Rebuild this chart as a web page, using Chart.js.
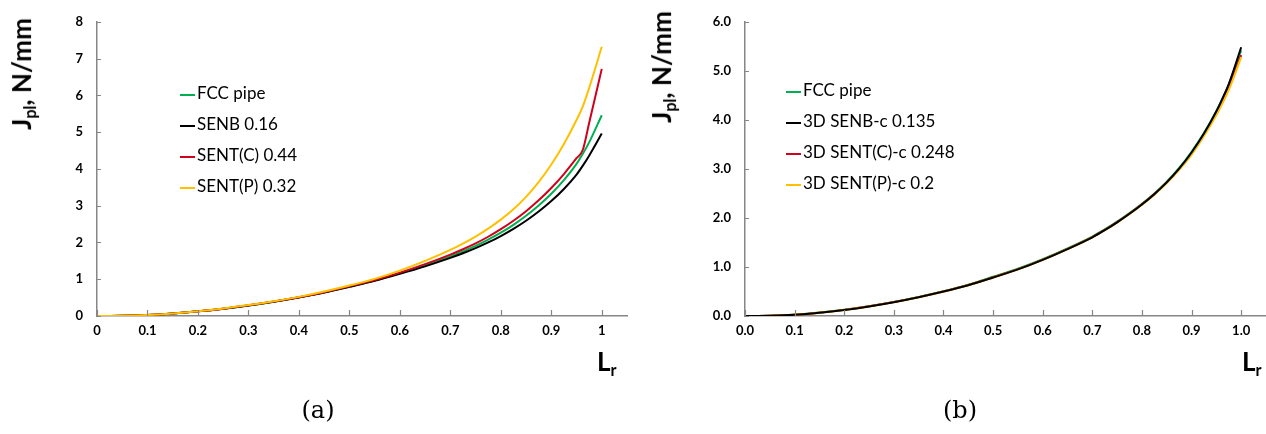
<!DOCTYPE html>
<html>
<head>
<meta charset="utf-8">
<script src="https://cdn.jsdelivr.net/npm/chart.js@4.4.1/dist/chart.umd.min.js"></script>
<style>
  body { margin: 0; background: #fff; }
  #page { position: relative; width: 1266px; height: 434px; background: #fff; overflow: hidden; font-family: Lato, sans-serif; }
  .panel { position: absolute; top: 0; height: 434px; }
  .ytitle { position: absolute; font: bold 26px Lato, sans-serif; white-space: nowrap; transform: translate(-50%, -50%) rotate(-90deg); color: #000; }
  .xtitle { position: absolute; font: bold 26px Lato, sans-serif; white-space: nowrap; color: #000; }
  sub { font-size: 62%; vertical-align: -0.3em; }
  .caption { position: absolute; font: 24px "DejaVu Serif", "Liberation Serif", serif; transform: translateX(-50%); color: #000; }
  .legend { position: absolute; font: 17px Lato, sans-serif; color: #000; }
  .legend div { height: 31px; line-height: 31px; white-space: nowrap; }
  .legend span { display: inline-block; width: 15px; height: 2px; vertical-align: middle; margin-right: 2px; }
</style>
</head>
<body>
<div id="page">
  <div class="panel" style="left:0;width:640px"><canvas id="chartA"></canvas></div>
  <div class="panel" style="left:640px;width:626px"><canvas id="chartB"></canvas></div>
  <div class="ytitle" style="left:22px;top:74px">J<sub>pl</sub>, N/mm</div>
  <div class="ytitle" style="left:662px;top:67px">J<sub>pl</sub>, N/mm</div>
  <div class="xtitle" style="left:597px;top:345px">L<sub>r</sub></div>
  <div class="xtitle" style="left:1242px;top:345px">L<sub>r</sub></div>
  <div class="caption" style="left:318px;top:396px">(a)</div>
  <div class="caption" style="left:960px;top:396px">(b)</div>
  <div class="legend" id="legendA" style="left:180px;top:77px"></div>
  <div class="legend" id="legendB" style="left:786px;top:74px"></div>
</div>
<script>
// L_r values shared by both panels
const lr = [0, 0.05, 0.1, 0.15, 0.2, 0.25, 0.3, 0.35, 0.4, 0.45, 0.5, 0.55, 0.6, 0.65, 0.7, 0.725, 0.75, 0.775, 0.8, 0.825, 0.85, 0.875, 0.9, 0.925, 0.95, 0.9625, 0.975, 1.0];
const xTicks = [0, 0.1, 0.2, 0.3, 0.4, 0.5, 0.6, 0.7, 0.8, 0.9, 1.0];

// (a) 2D geometry
const labelsA = ['FCC pipe', 'SENB 0.16', 'SENT(C) 0.44', 'SENT(P) 0.32'];
const fccA   = [0, 0.005, 0.027, 0.069, 0.127, 0.2, 0.288, 0.39, 0.507, 0.64, 0.8, 0.965, 1.16, 1.38, 1.62, 1.755, 1.905, 2.075, 2.265, 2.48, 2.725, 3.005, 3.325, 3.695, 4.135, 4.41, 4.72, 5.46];
const senbA  = [0, 0.005, 0.027, 0.069, 0.127, 0.2, 0.288, 0.39, 0.505, 0.637, 0.792, 0.955, 1.145, 1.35, 1.58, 1.705, 1.845, 2.0, 2.175, 2.37, 2.59, 2.84, 3.125, 3.455, 3.845, 4.09, 4.36, 4.96];
const sentcA = [0, 0.005, 0.027, 0.069, 0.127, 0.2, 0.29, 0.392, 0.51, 0.647, 0.81, 0.98, 1.18, 1.41, 1.67, 1.815, 1.975, 2.155, 2.36, 2.59, 2.85, 3.145, 3.48, 3.86, 4.29, 4.52, 5.25, 6.72];
const sentpA = [0, 0.005, 0.027, 0.07, 0.13, 0.205, 0.296, 0.4, 0.52, 0.665, 0.83, 1.01, 1.235, 1.5, 1.8, 1.97, 2.16, 2.375, 2.62, 2.9, 3.24, 3.64, 4.12, 4.68, 5.33, 5.7, 6.2, 7.32];

// (b) 3D geometry
const labelsB = ['FCC pipe', '3D SENB-c 0.135', '3D SENT(C)-c 0.248', '3D SENT(P)-c 0.2'];
const fccB   = [0, 0.005, 0.027, 0.069, 0.127, 0.2, 0.288, 0.39, 0.507, 0.64, 0.8, 0.965, 1.16, 1.38, 1.62, 1.765, 1.925, 2.1, 2.29, 2.5, 2.74, 3.02, 3.35, 3.73, 4.18, 4.44, 4.72, 5.42];
const senbB  = [0, 0.005, 0.026, 0.067, 0.124, 0.196, 0.282, 0.383, 0.498, 0.628, 0.785, 0.95, 1.145, 1.365, 1.605, 1.75, 1.91, 2.085, 2.275, 2.485, 2.725, 3.005, 3.335, 3.72, 4.175, 4.44, 4.73, 5.48];
const sentcB = [0, 0.005, 0.026, 0.068, 0.125, 0.197, 0.284, 0.385, 0.5, 0.632, 0.79, 0.955, 1.15, 1.37, 1.61, 1.755, 1.915, 2.09, 2.28, 2.49, 2.725, 2.995, 3.31, 3.7, 4.13, 4.38, 4.65, 5.32];
const sentpB = [0, 0.005, 0.026, 0.067, 0.124, 0.196, 0.283, 0.383, 0.498, 0.628, 0.785, 0.95, 1.145, 1.365, 1.605, 1.75, 1.905, 2.08, 2.27, 2.475, 2.71, 2.98, 3.29, 3.67, 4.1, 4.345, 4.61, 5.28];

const colors = ['#00B050', '#000000', '#D0021B', '#FFC000'];
const axisColor = '#868686';

Chart.defaults.font.family = 'Lato, sans-serif';
Chart.defaults.color = '#000';

// short tick marks pointing into the plot, like the original
const innerTicks = {
  id: 'innerTicks',
  afterDraw(chart) {
    const ctx = chart.ctx;
    const xs = chart.scales.x, ys = chart.scales.y;
    ctx.save();
    ctx.strokeStyle = axisColor;
    ctx.lineWidth = 1.2;
    ctx.beginPath();
    xs.ticks.forEach(t => {
      const px = Math.round(xs.getPixelForValue(t.value)) + 0.5;
      ctx.moveTo(px, xs.top);
      ctx.lineTo(px, xs.top - 6);
    });
    ys.ticks.forEach(t => {
      const py = Math.round(ys.getPixelForValue(t.value)) + 0.5;
      ctx.moveTo(ys.right - 1, py);
      ctx.lineTo(ys.right + 4, py);
    });
    ctx.stroke();
    ctx.restore();
  }
};

function makeChart(id, labels, series, orders, opts) {
  const datasets = series.map((vals, i) => ({
    label: labels[i],
    data: vals.map((v, k) => ({ x: lr[k], y: v })),
    borderColor: colors[i],
    backgroundColor: colors[i],
    borderWidth: 2,
    pointRadius: 0,
    cubicInterpolationMode: 'monotone',
    order: orders[i]
  }));
  return new Chart(document.getElementById(id), {
    type: 'line',
    data: { datasets },
    options: {
      responsive: true,
      maintainAspectRatio: false,
      animation: false,
      layout: { padding: { top: 14, right: opts.padRight, left: 0, bottom: 0 } },
      plugins: { legend: { display: false }, tooltip: { enabled: false } },
      scales: {
        x: {
          type: 'linear',
          min: 0,
          max: 1.05,
          afterBuildTicks: s => { s.ticks = xTicks.map(v => ({ value: v })); },
          afterFit: s => { s.height = 434 - opts.bottom; },
          ticks: {
            padding: 7,
            maxRotation: 0,
            autoSkip: false,
            font: { size: 13, weight: 'bold' },
            callback: v => opts.xFmt(v)
          },
          grid: { display: true, drawOnChartArea: false, drawTicks: false },
          border: { display: true, color: axisColor, width: 1.5 }
        },
        y: {
          min: 0,
          max: opts.yMax,
          afterFit: s => { s.width = opts.yLeft; },
          ticks: {
            stepSize: 1,
            padding: 14,
            font: { size: 13, weight: 'bold' },
            callback: v => opts.yFmt(v)
          },
          grid: { display: true, drawOnChartArea: false, drawTicks: false },
          border: { display: true, color: axisColor, width: 1.5 }
        }
      }
    },
    plugins: [innerTicks]
  });
}

function buildLegend(chart, elId) {
  const el = document.getElementById(elId);
  chart.data.datasets.forEach(ds => {
    const row = document.createElement('div');
    const line = document.createElement('span');
    line.style.background = ds.borderColor;
    row.appendChild(line);
    row.appendChild(document.createTextNode(ds.label));
    el.appendChild(row);
  });
}

const chartA = makeChart('chartA', labelsA, [fccA, senbA, sentcA, sentpA], [4, 3, 2, 1], {
  padRight: 13, bottom: 316, yLeft: 97, yMax: 8,
  xFmt: v => String(Math.round(v * 10) / 10),
  yFmt: v => String(v)
});
const chartB = makeChart('chartB', labelsB, [fccB, senbB, sentcB, sentpB], [4, 1, 3, 2], {
  padRight: 0, bottom: 316, yLeft: 105, yMax: 6,
  xFmt: v => v.toFixed(1),
  yFmt: v => v.toFixed(1)
});
buildLegend(chartA, 'legendA');
buildLegend(chartB, 'legendB');
</script>
</body>
</html>
